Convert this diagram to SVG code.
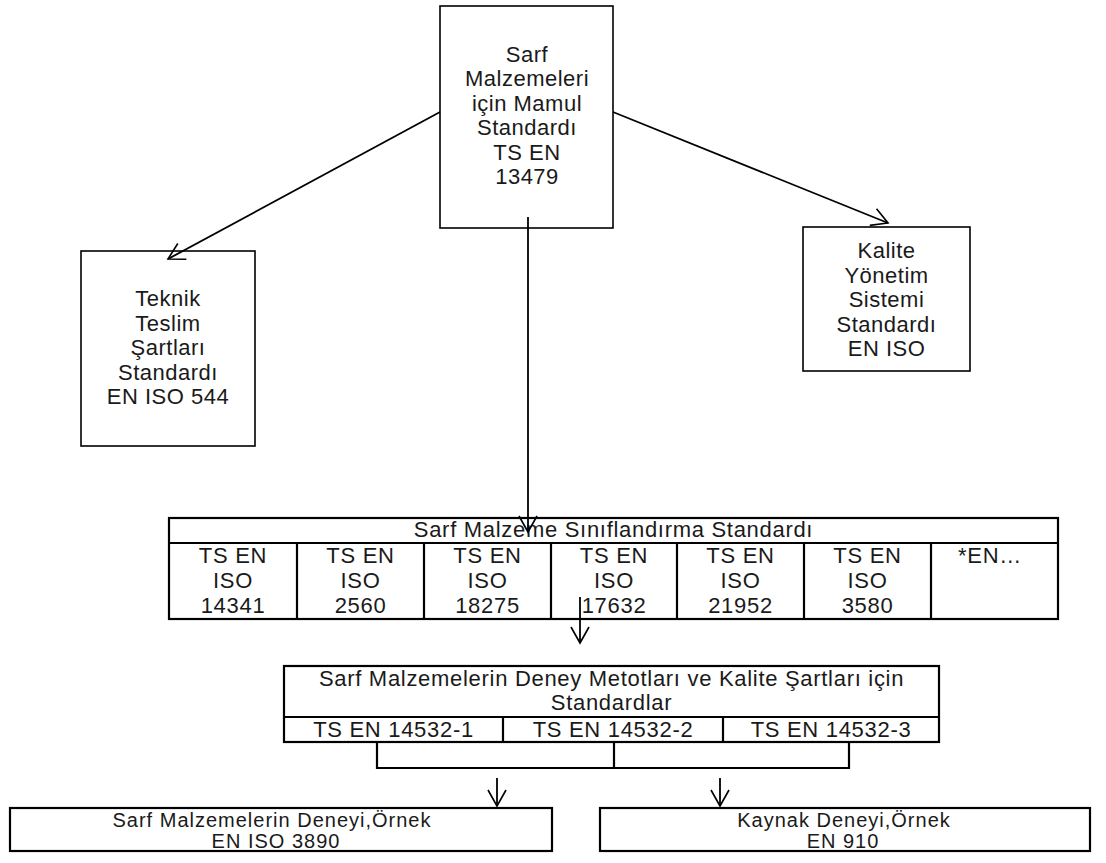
<svg xmlns="http://www.w3.org/2000/svg" width="1106" height="863" viewBox="0 0 1106 863">
<defs>
<marker id="v" markerUnits="userSpaceOnUse" orient="auto" viewBox="-20 -12 24 24" markerWidth="24" markerHeight="24" refX="0" refY="0" overflow="visible">
<path d="M-16,-9 L0,0 L-16,9" fill="none" stroke="#000" stroke-width="1.6"/>
</marker>
</defs>
<style>
text{font-family:"Liberation Sans",Arial,sans-serif;font-size:22px;fill:#1a1a1a;text-anchor:middle;letter-spacing:0.5px}
.t text{letter-spacing:0.7px}
.s text{font-size:20px;letter-spacing:1px}
.box{fill:#fff;stroke:#000;stroke-width:1.6}
.tb{fill:none;stroke:#000;stroke-width:2.2}
.c{fill:none;stroke:#000;stroke-width:1.8}
</style>
<rect width="1106" height="863" fill="#fff"/>
<g id="n-mamul">
<rect class="box" x="440" y="6" width="173" height="222"/>
<text x="527" y="62">Sarf</text>
<text x="527" y="86.4">Malzemeleri</text>
<text x="527" y="110.8">için Mamul</text>
<text x="527" y="135.2">Standardı</text>
<text x="527" y="159.6">TS EN</text>
<text x="527" y="184">13479</text>
</g>
<g id="n-teknik">
<rect class="box" x="81" y="251" width="174" height="195"/>
<text x="168" y="306">Teknik</text>
<text x="168" y="330.5">Teslim</text>
<text x="168" y="355">Şartları</text>
<text x="168" y="379.5">Standardı</text>
<text x="168" y="404">EN ISO 544</text>
</g>
<g id="n-kalite">
<rect class="box" x="803" y="227" width="167" height="144"/>
<text x="886.5" y="258">Kalite</text>
<text x="886.5" y="282.5">Yönetim</text>
<text x="886.5" y="307">Sistemi</text>
<text x="886.5" y="331.5">Standardı</text>
<text x="886.5" y="356">EN ISO</text>
</g>
<g id="n-siniflandirma" class="t">
<rect class="tb" x="169" y="518" width="889" height="101"/>
<path class="tb" d="M169,543 H1058 M297,543 V619 M424,543 V619 M551,543 V619 M677,543 V619 M804,543 V619 M931,543 V619"/>
<text x="613.5" y="537">Sarf Malzeme Sınıflandırma Standardı</text>
<text x="233" y="563">TS EN</text><text x="233" y="588">ISO</text><text x="233" y="613">14341</text>
<text x="360.5" y="563">TS EN</text><text x="360.5" y="588">ISO</text><text x="360.5" y="613">2560</text>
<text x="487.5" y="563">TS EN</text><text x="487.5" y="588">ISO</text><text x="487.5" y="613">18275</text>
<text x="614" y="563">TS EN</text><text x="614" y="588">ISO</text><text x="614" y="613">17632</text>
<text x="740.5" y="563">TS EN</text><text x="740.5" y="588">ISO</text><text x="740.5" y="613">21952</text>
<text x="867.5" y="563">TS EN</text><text x="867.5" y="588">ISO</text><text x="867.5" y="613">3580</text>
<text x="990" y="563">*EN…</text>
</g>
<g id="n-deney" class="t">
<rect class="tb" x="284" y="666" width="655" height="76"/>
<path class="tb" d="M284,717 H939 M503,717 V742 M723,717 V742"/>
<text x="611.5" y="686">Sarf Malzemelerin Deney Metotları ve Kalite Şartları için</text>
<text x="611.5" y="710">Standardlar</text>
<text x="393.5" y="737">TS EN 14532-1</text>
<text x="613" y="737">TS EN 14532-2</text>
<text x="831" y="737">TS EN 14532-3</text>
</g>
<g id="n-ornek1" class="s">
<rect class="tb" x="10" y="808" width="542" height="43"/>
<text x="272" y="827">Sarf Malzemelerin Deneyi,Örnek</text>
<text x="276" y="848">EN ISO 3890</text>
</g>
<g id="n-ornek2" class="s">
<rect class="tb" x="600" y="808" width="490" height="43"/>
<text x="844" y="827">Kaynak Deneyi,Örnek</text>
<text x="843" y="848">EN 910</text>
</g>
<g id="connectors">
<line class="c" x1="440" y1="112" x2="168" y2="259" marker-end="url(#v)"/>
<line class="c" x1="613" y1="112" x2="888" y2="223" marker-end="url(#v)"/>
<line class="c" x1="528" y1="217" x2="528" y2="532" marker-end="url(#v)"/>
<line class="c" x1="580" y1="597" x2="580" y2="643" marker-end="url(#v)"/>
<path class="tb" d="M377,742 V768 H849 V742 M614,742 V768"/>
<line class="c" x1="497" y1="778" x2="497" y2="806" marker-end="url(#v)"/>
<line class="c" x1="720" y1="778" x2="720" y2="806" marker-end="url(#v)"/>
</g>
</svg>
